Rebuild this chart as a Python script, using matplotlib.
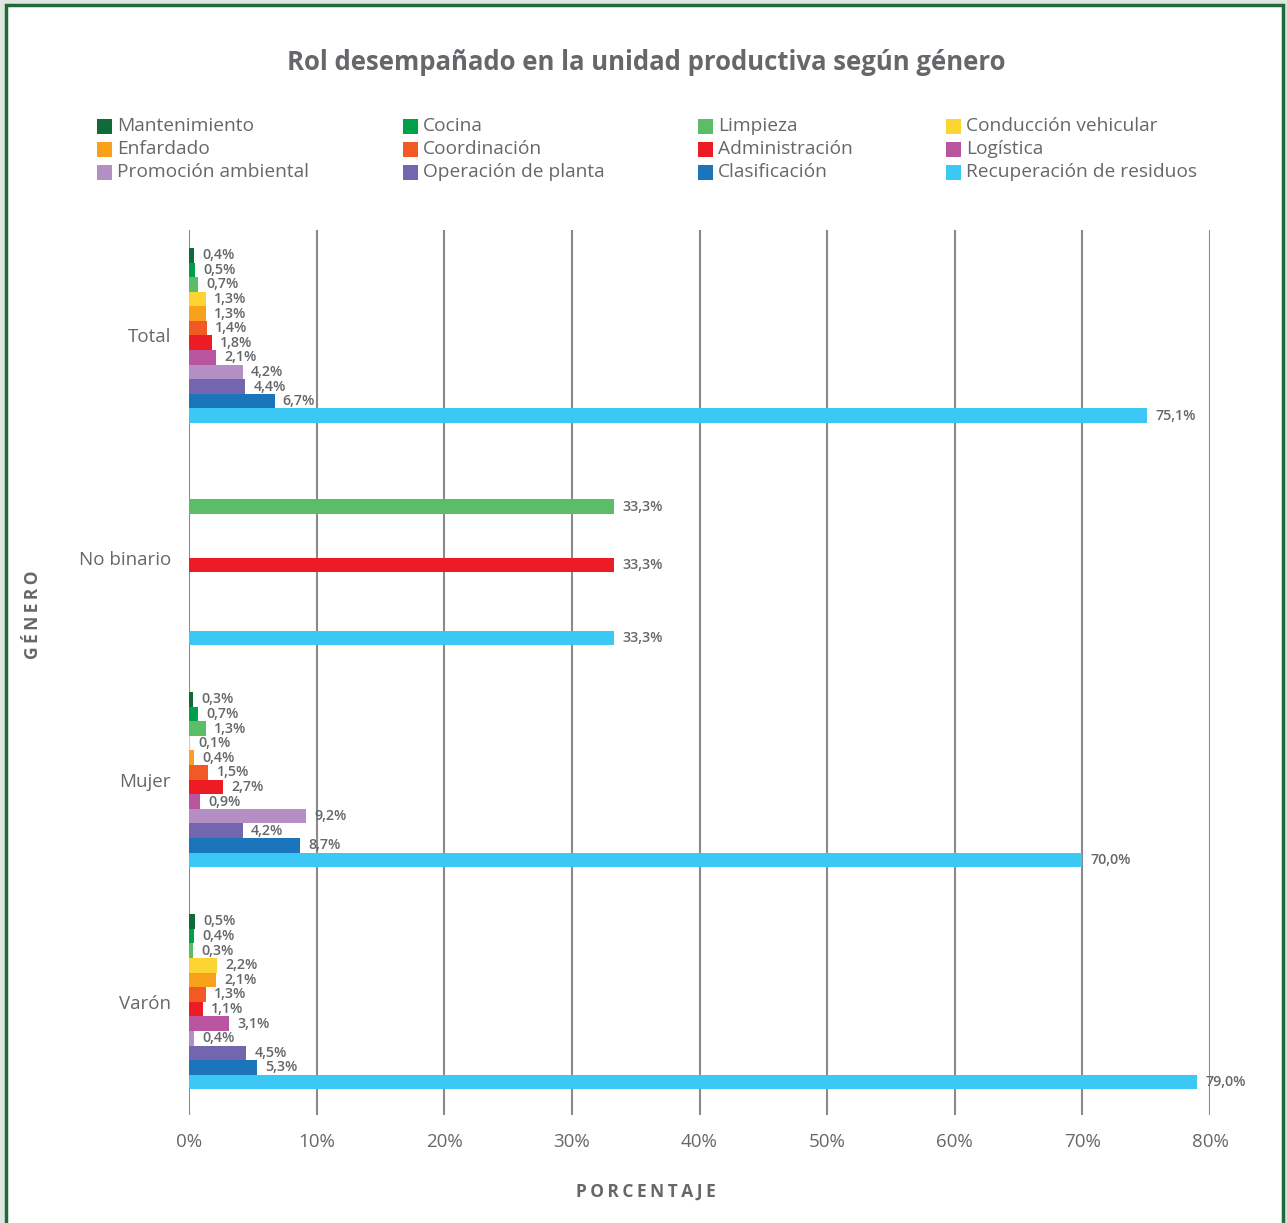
import matplotlib
matplotlib.use("Agg")
import matplotlib.pyplot as plt
from matplotlib.patches import Rectangle
import numpy as np

plt.rcParams['font.family'] = ['Open Sans', 'DejaVu Sans']

groups = ["Total", "No binario", "Mujer", "Varón"]
roles = ["Mantenimiento", "Cocina", "Limpieza", "Conducción vehicular",
         "Enfardado", "Coordinación", "Administración", "Logística",
         "Promoción ambiental", "Operación de planta", "Clasificación",
         "Recuperación de residuos"]
colors = ["#0f6b37", "#00a04b", "#5bbd67", "#fdd532", "#f9a11b", "#f15a24",
          "#ed1c24", "#b9559e", "#b48fc3", "#7366ae", "#1a75bb", "#3bc8f4"]

total = [0.4, 0.5, 0.7, 1.3, 1.3, 1.4, 1.8, 2.1, 4.2, 4.4, 6.7, 75.1]
no_binario = [0, 0, 33.3, 0, 0, 0, 33.3, 0, 0, 0, 0, 33.3]
mujer = [0.3, 0.7, 1.3, 0.1, 0.4, 1.5, 2.7, 0.9, 9.2, 4.2, 8.7, 70.0]
varon = [0.5, 0.4, 0.3, 2.2, 2.1, 1.3, 1.1, 3.1, 0.4, 4.5, 5.3, 79.0]
values = np.array([total, no_binario, mujer, varon])

xticks = [0, 10, 20, 30, 40, 50, 60, 70, 80]

TEXT = "#66676b"
W, H = 1287, 1223
fig = plt.figure(figsize=(W / 100, H / 100), dpi=100)
fig.patch.set_facecolor("#dfe6df")

# white card with green frame
fig.patches.append(Rectangle((6 / W, -0.02), (1283 - 6) / W, 1.02 - 5 / H,
                             transform=fig.transFigure, facecolor="white",
                             edgecolor="#1e6b3a", linewidth=2.5, zorder=0))

ax = fig.add_axes([189 / W, 1 - 1115 / H, (1210 - 189) / W, (1115 - 230) / H])
ax.set_facecolor("none")
ax.set_zorder(5)

n = len(roles)
bh = 0.0657
y0 = np.arange(len(groups))
for j in range(n):
    ys = y0 - (n - 1) / 2 * bh + j * bh
    vals = values[:, j]
    ax.barh(ys, vals, height=bh, color=colors[j], zorder=3)
    for y, v in zip(ys, vals):
        if v > 0:
            ax.annotate(f"{v:.1f}%".replace(".", ","), (v, y),
                        xytext=(6, 0), textcoords="offset points",
                        ha="left", va="center", fontsize=10.3,
                        fontweight="semibold", color=TEXT, zorder=4)

ax.set_xlim(0, 80)
ax.set_ylim(3.51, -0.475)
ax.set_xticks(xticks)
ax.set_xticklabels([f"{t}%" for t in xticks], fontsize=13.5, color=TEXT)
ax.set_yticks(y0)
ax.set_yticklabels(groups, fontsize=13.5, color=TEXT)
ax.tick_params(axis="y", length=0, pad=13)
ax.tick_params(axis="x", length=0, pad=13)
ax.grid(axis="x", color="#8a8a8a", linewidth=1.5, zorder=1)
for s in ax.spines.values():
    s.set_visible(False)

fig.text(646 / W, 1 - 63 / H, "Rol desempañado en la unidad productiva según género",
         ha="center", va="center", fontsize=18.5, fontweight="bold", color=TEXT)

fig.text(646 / W, 1 - 1192 / H, "\u2009".join("PORCENTAJE"), ha="center",
         va="center", fontsize=12.5, fontweight="bold", color=TEXT)
fig.text(33 / W, 1 - 615 / H, "\u2009".join("GÉNERO"), ha="center",
         va="center", rotation=90, fontsize=12.5, fontweight="bold", color=TEXT)

# legend laid out in four columns, filled row by row
col_x = [97, 403, 698, 946]
row_y = [126, 149, 172]
sq = 15
for k, (name, c) in enumerate(zip(roles, colors)):
    r, cidx = divmod(k, 4)
    x = col_x[cidx]
    y = row_y[r]
    fig.patches.append(Rectangle((x / W, 1 - (y + sq / 2) / H), sq / W, sq / H,
                                 transform=fig.transFigure, facecolor=c,
                                 edgecolor="none", zorder=2))
    fig.text((x + sq + 5) / W, 1 - y / H, name, ha="left", va="center",
             fontsize=13.8, color=TEXT)

fig.savefig("out.png", dpi=100)
